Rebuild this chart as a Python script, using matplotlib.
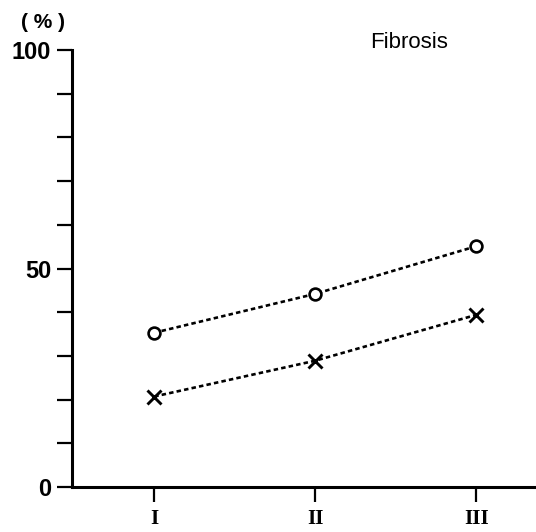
import matplotlib
matplotlib.use('Agg')
import matplotlib.pyplot as plt

stages = [1, 2, 3]
stage_labels = ['I', 'II', 'III']
circle_vals = [35.3, 44.2, 55.1]   # open circles
cross_vals = [20.7, 28.9, 39.4]    # crosses

W, H = 536, 532
fig = plt.figure(figsize=(W / 100, H / 100), dpi=100)
ax = fig.add_axes([72 / W, 1 - 487 / H, 1 - 72 / W, (487 - 50) / H])

dots = (0, (1.7, 1.2))
ax.plot(stages, circle_vals, color='k', lw=1.9, ls=dots, marker='o', ms=8.5,
        mfc='white', mec='k', mew=1.9, clip_on=False, zorder=3)
ax.plot(stages, cross_vals, color='k', lw=1.9, ls=dots, marker='x', ms=9.5,
        mec='k', mew=2.1, clip_on=False, zorder=3)

ax.set_xlim(0.49, 3.37)
ax.set_ylim(0, 100)

for s in ['top', 'right']:
    ax.spines[s].set_visible(False)
for s in ['left', 'bottom']:
    ax.spines[s].set_linewidth(2.2)

ax.set_yticks(range(0, 101, 10))
ax.set_yticklabels(['0' if v == 0 else '50' if v == 50 else '100' if v == 100 else ''
                    for v in range(0, 101, 10)],
                   fontfamily='Liberation Sans', fontweight='bold', fontsize=17)
ax.tick_params(axis='y', length=11, width=1.6, pad=4)

ax.set_xticks(stages)
ax.set_xticklabels(stage_labels, fontfamily='Liberation Serif', fontweight='bold',
                   fontsize=15)
ax.tick_params(axis='x', length=11, width=1.6, pad=5)

fig.text(43 / W, 1 - 23 / H, '( % )', ha='center', va='center',
         fontfamily='Liberation Sans', fontweight='bold', fontsize=15)
fig.text(409 / W, 1 - 42 / H, 'Fibrosis', ha='center', va='center',
         fontfamily='Liberation Sans', fontsize=16)

fig.savefig('out.png', dpi=100)
